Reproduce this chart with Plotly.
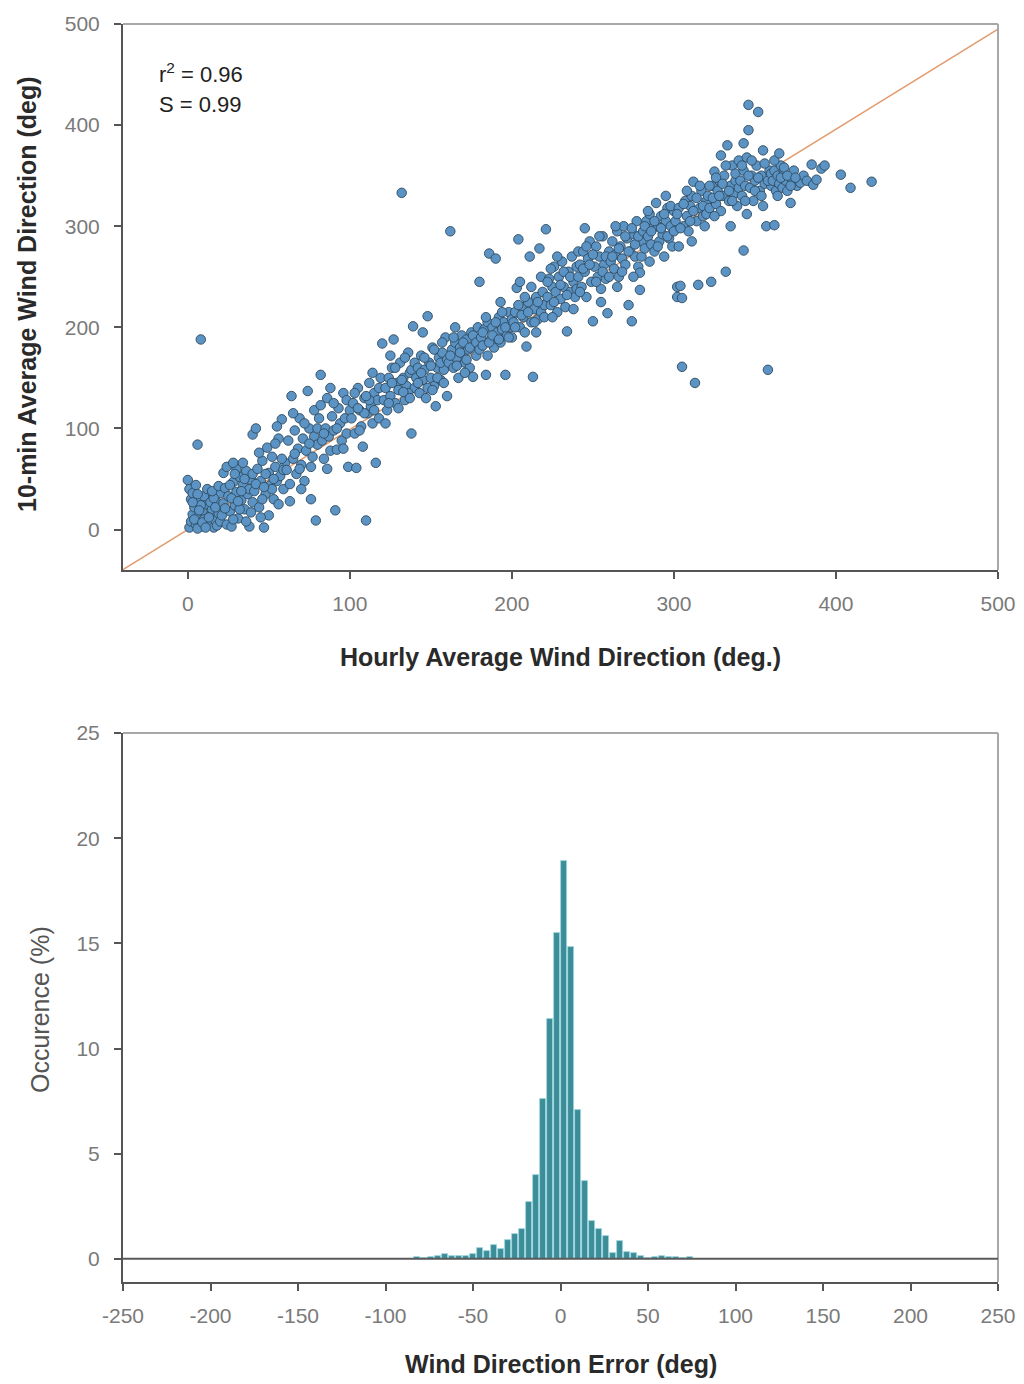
import plotly.graph_objects as go

# ---------------- Data: scatter (hourly vs 10-min average wind direction, deg) ----------------
obs_pairs = [
    # x 0-20
    (1,2),(2,8),(3,15),(4,22),(5,5),(6,12),(7,28),(8,3),(9,18),(10,10),(11,25),(12,6),(13,33),(14,14),(15,20),
    (16,2),(17,9),(18,27),(19,16),(20,36),(2,30),(0,49),(1,40),(3,36),(5,44),(6,1),(8,24),(10,33),(12,40),(14,27),
    (16,31),(18,4),(4,10),(7,19),(9,7),(13,12),(15,38),(17,22),(19,43),(11,2),(3,27),(6,35),(20,8),(6,84),(8,188),
    # x 20-40
    (21,14),(22,26),(23,41),(24,5),(25,33),(26,18),(27,3),(28,47),(29,24),(30,37),(31,11),(32,52),(33,29),(34,44),
    (35,20),(36,58),(37,35),(38,3),(39,49),(40,27),(22,56),(24,62),(26,44),(28,10),(30,60),(32,20),(34,66),(36,8),
    (38,40),(40,55),(23,21),(27,31),(33,38),(29,55),(35,50),(28,66),(40,94),(39,17),(31,28),
    # x 40-60
    (41,38),(42,100),(43,60),(44,22),(45,48),(46,68),(47,2),(48,35),(49,81),(50,56),(51,44),(52,72),(53,30),(54,62),
    (55,48),(56,90),(57,53),(58,109),(59,40),(60,66),(42,45),(44,76),(46,30),(48,55),(50,14),(52,40),(54,85),(56,25),
    (58,70),(45,12),(55,102),(53,50),(47,42),(59,59),
    # x 60-80
    (61,59),(62,88),(63,45),(64,132),(65,70),(66,98),(67,55),(68,80),(69,110),(70,64),(71,90),(72,48),(73,78),(74,137),
    (75,100),(76,62),(77,72),(78,92),(79,9),(80,84),(63,28),(66,75),(69,60),(72,105),(75,85),(78,118),(65,115),(70,40),
    (76,30),(80,100),
    # x 80-100
    (81,110),(82,153),(82,123),(83,88),(84,70),(85,100),(86,130),(87,92),(88,78),(89,112),(90,98),(91,19),(92,79),
    (93,120),(94,105),(95,88),(96,135),(97,110),(98,95),(99,62),(100,118),(84,95),(88,140),(92,100),(96,80),(90,125),
    (86,60),(98,128),
    # x 100-120
    (101,110),(102,125),(103,95),(104,61),(105,140),(106,118),(107,102),(108,82),(109,130),(110,9),(111,115),(112,145),
    (113,122),(114,105),(115,135),(116,66),(117,128),(118,110),(119,150),(120,184),(103,135),(106,98),(109,115),
    (112,128),(115,118),(118,140),(105,120),(110,132),(114,155),
    # x 120-140
    (121,128),(122,140),(123,118),(124,150),(125,132),(126,160),(127,188),(128,125),(129,145),(130,138),(131,165),
    (132,333),(133,150),(134,128),(135,142),(136,175),(137,155),(138,95),(139,201),(140,140),(122,105),(124,125),
    (126,145),(128,160),(130,120),(132,148),(134,170),(136,135),(138,158),(140,165),(125,172),(133,136),(137,130),
    # x 140-160
    (141,150),(142,160),(143,135),(144,172),(145,148),(146,158),(147,130),(148,211),(149,165),(150,150),(151,180),
    (152,142),(153,122),(154,160),(155,170),(156,148),(157,175),(158,158),(159,190),(160,132),(142,145),(144,155),
    (146,170),(148,140),(150,162),(152,178),(154,150),(156,165),(158,145),(160,168),(145,195),(151,138),(157,185),
    # x 160-180
    (161,165),(162,295),(163,178),(164,160),(165,185),(166,170),(167,150),(168,180),(169,192),(170,175),(171,165),
    (172,188),(173,178),(174,160),(175,195),(176,151),(177,182),(178,172),(179,200),(180,245),(162,172),(164,190),
    (166,162),(168,175),(170,185),(172,168),(174,180),(176,192),(178,185),(180,178),(165,200),(171,155),
    # x 180-200
    (181,190),(182,182),(183,198),(184,153),(185,205),(186,273),(187,188),(188,200),(189,180),(190,268),(191,195),
    (192,210),(193,185),(194,198),(195,205),(196,153),(197,192),(198,215),(199,200),(200,190),(182,195),(184,210),
    (186,185),(188,192),(190,205),(192,188),(194,215),(196,200),(198,190),(200,208),(185,172),(193,225),
    # x 200-220
    (201,205),(202,215),(203,239),(204,287),(205,200),(206,220),(207,210),(208,195),(209,181),(210,225),(211,270),
    (212,205),(213,151),(214,218),(215,230),(216,208),(217,278),(218,215),(219,235),(220,222),(202,200),(204,222),
    (206,212),(208,230),(210,215),(212,240),(214,205),(216,225),(218,250),(220,210),(205,245),(215,195),
    # x 220-240
    (221,297),(222,230),(223,248),(224,222),(225,240),(226,260),(227,235),(228,215),(229,250),(230,228),(231,265),
    (232,240),(233,220),(234,196),(235,255),(236,235),(237,270),(238,245),(239,230),(240,260),(222,245),(224,258),
    (226,225),(228,270),(230,242),(232,255),(234,232),(236,250),(238,218),(240,238),(241,275),(225,210),
    # x 240-260
    (241,250),(242,262),(243,240),(244,275),(245,255),(246,230),(247,268),(248,285),(249,245),(250,206),(251,260),
    (252,280),(253,250),(254,270),(255,238),(256,290),(257,262),(258,248),(259,214),(260,275),(242,235),(244,258),
    (246,280),(248,262),(250,272),(252,245),(254,290),(256,255),(258,270),(260,250),(245,298),(255,225),
    # x 260-280
    (261,265),(262,285),(263,258),(264,272),(265,295),(266,250),(267,280),(268,268),(269,300),(270,262),(271,288),
    (272,222),(273,275),(274,206),(275,292),(276,270),(277,305),(278,260),(279,237),(280,285),(262,270),(264,300),
    (266,278),(268,255),(270,290),(272,275),(274,298),(276,282),(278,290),(280,270),(279,254),(265,240),(275,250),
    # x 280-300
    (281,295),(282,278),(283,305),(284,290),(285,312),(286,282),(287,298),(288,275),(289,323),(290,300),(291,285),
    (292,310),(293,292),(294,270),(295,305),(296,318),(297,288),(298,300),(299,280),(300,315),(282,300),(284,315),
    (286,295),(288,305),(290,280),(292,298),(294,312),(296,290),(298,320),(300,295),(285,265),(295,330),
    # x 300-320
    (301,305),(302,240),(302,230),(303,318),(304,241),(305,229),(305,161),(306,300),(307,325),(308,310),(309,295),
    (310,320),(311,330),(312,344),(313,145),(314,305),(315,242),(316,318),(317,335),(318,310),(319,300),(320,325),
    (302,312),(304,298),(306,322),(308,335),(310,305),(312,315),(314,328),(316,340),(318,320),(320,312),(311,285),
    (303,280),
    # x 320-340
    (321,330),(322,318),(323,245),(324,340),(325,354),(326,322),(327,335),(328,345),(329,315),(330,330),(331,350),
    (332,255),(333,380),(334,325),(335,340),(336,360),(337,332),(338,345),(339,320),(340,338),(322,340),(324,328),
    (326,348),(328,330),(330,342),(332,360),(334,335),(336,325),(338,352),(340,365),(325,310),(335,300),(343,276),
    (343,382),(329,370),
    # x 340-360
    (341,345),(342,330),(343,355),(344,340),(345,368),(346,395),(346,420),(347,338),(348,350),(349,325),(350,345),
    (351,360),(352,413),(353,335),(354,350),(355,375),(356,342),(357,300),(358,158),(359,355),(360,340),(342,360),
    (344,325),(346,350),(348,365),(350,335),(352,348),(354,330),(356,362),(358,345),(360,352),(362,301),(345,312),
    (355,320),
    # x 360-425
    (361,345),(362,355),(363,335),(364,350),(365,342),(366,360),(367,338),(368,352),(369,345),(370,335),(372,323),
    (373,346),(374,355),(376,340),(378,343),(380,350),(382,345),(385,361),(386,341),(388,346),(391,357),(364,330),
    (366,348),(368,358),(370,350),(372,340),(375,348),(362,365),(365,372),(393,360),(403,351),(409,338),(422,344),
]
hourly_avg = [p[0] for p in obs_pairs]
tenmin_avg = [p[1] for p in obs_pairs]

fit_slope = 0.99
fit_x = [-40, 500]
fit_y = [fit_slope * v for v in fit_x]

# ---------------- Data: histogram of wind direction error ----------------
err_bin_centers = [-82, -78, -74, -70, -66, -62, -58, -54, -50, -46, -42, -38, -34, -30, -26, -22, -18, -14,
                   -10, -6, -2, 2, 6, 10, 14, 18, 22, 26, 30, 34, 38, 42, 46, 50, 54, 58, 62, 66, 70, 74]
occurrence_pct = [0.10, 0.05, 0.10, 0.13, 0.25, 0.13, 0.13, 0.13, 0.25, 0.52, 0.37, 0.68, 0.48, 0.90, 1.16, 1.40,
                  2.70, 4.00, 7.60, 11.40, 15.50, 18.90, 14.85, 7.10, 3.70, 1.80, 1.40, 1.10, 0.30, 0.85, 0.35,
                  0.30, 0.15, 0.05, 0.10, 0.12, 0.10, 0.08, 0.05, 0.10]

top_ticks = [0, 100, 200, 300, 400, 500]
hist_x_ticks = [-250, -200, -150, -100, -50, 0, 50, 100, 150, 200, 250]
hist_y_ticks = [0, 5, 10, 15, 20, 25]

FONT = "Liberation Sans, Arial, sans-serif"
TICK_FONT = dict(family=FONT, size=21, color="#7a7a7a")
AXIS_COL = "#555555"
BOX_COL = "#a8a8a8"

# page geometry (pixels) -> plot area bounds
W, H = 1024, 1384
L, R, T, B = 123, 998, 24, 1282
PW, PH = R - L, B - T


def px_x(px):
    return (px - L) / PW


def px_y(py):
    return (B - py) / PH


fig = go.Figure()
fig.add_trace(go.Scatter(x=fit_x, y=fit_y, mode="lines", line=dict(color="#e39a6c", width=1.5),
                         xaxis="x", yaxis="y", showlegend=False, hoverinfo="skip"))
fig.add_trace(go.Scatter(x=hourly_avg, y=tenmin_avg, mode="markers",
                         marker=dict(size=9.5, color="#5b94c4", line=dict(color="#2f4a5f", width=0.9)),
                         xaxis="x", yaxis="y", showlegend=False))
fig.add_trace(go.Bar(x=err_bin_centers, y=occurrence_pct, width=3.3,
                     marker=dict(color="#3d8d98", line=dict(color="#9ad8e0", width=0.8)),
                     xaxis="x2", yaxis="y2", showlegend=False))

top_dom = [px_y(570), px_y(24)]
bot_dom = [px_y(1282), px_y(733)]

axis_common = dict(showgrid=False, zeroline=False, showline=True, linecolor=AXIS_COL, linewidth=2,
                   ticks="outside", ticklen=7, tickwidth=2, tickcolor=AXIS_COL, tickfont=TICK_FONT,
                   automargin=False)

fig.update_layout(
    width=W, height=H, margin=dict(l=L, r=W - R, t=T, b=H - B, pad=0, autoexpand=False),
    paper_bgcolor="white", plot_bgcolor="white",
    xaxis=dict(domain=[0, 1], range=[-40, 500], tickvals=top_ticks, anchor="y",
               ticklabelstandoff=7, **axis_common),
    yaxis=dict(domain=top_dom, range=[-40, 500], tickvals=top_ticks, anchor="x",
               ticklabelstandoff=10, **axis_common),
    xaxis2=dict(domain=[0, 1], range=[-250, 250], tickvals=hist_x_ticks,
                ticktext=[str(v) for v in hist_x_ticks], anchor="y2", ticklabelstandoff=7, **axis_common),
    yaxis2=dict(domain=bot_dom, range=[-1.1, 25], tickvals=hist_y_ticks, anchor="x2",
                ticklabelstandoff=10, **axis_common),
    bargap=0,
)

# box borders (top / right) and zero line
shapes = []
for xr, yr in (("x domain", "y domain"), ("x2 domain", "y2 domain")):
    shapes.append(dict(type="line", xref=xr, yref=yr, x0=0, x1=1, y0=1, y1=1, line=dict(color=BOX_COL, width=2)))
    shapes.append(dict(type="line", xref=xr, yref=yr, x0=1, x1=1, y0=0, y1=1, line=dict(color=BOX_COL, width=2)))
shapes.append(dict(type="line", xref="x2 domain", yref="y2", x0=0, x1=1, y0=0, y1=0,
                   line=dict(color="#5a5a5a", width=2), layer="above"))
fig.update_layout(shapes=shapes)

TITLE_FONT = dict(family=FONT, size=25, color="#2a2a2a", weight="bold")
LABEL_FONT = dict(family=FONT, size=22, color="#222")
annos = [
    dict(text="r<sup>2</sup> = 0.96", x=px_x(157), y=px_y(73), xanchor="left", yanchor="middle", font=LABEL_FONT),
    dict(text="S = 0.99", x=px_x(157), y=px_y(104), xanchor="left", yanchor="middle", font=LABEL_FONT),
    dict(text="Hourly Average Wind Direction (deg.)", x=px_x(560), y=px_y(657),
         xanchor="center", yanchor="middle", font=TITLE_FONT),
    dict(text="10-min Average Wind Direction (deg)", x=px_x(27), y=px_y(294), textangle=-90,
         xanchor="center", yanchor="middle", font=TITLE_FONT),
    dict(text="Occurence (%)", x=px_x(40), y=px_y(1010), textangle=-90,
         xanchor="center", yanchor="middle", font=dict(family=FONT, size=25, color="#555")),
    dict(text="Wind Direction Error (deg)", x=px_x(561), y=px_y(1364),
         xanchor="center", yanchor="middle", font=TITLE_FONT),
]
for a in annos:
    a.update(xref="paper", yref="paper", showarrow=False)
fig.update_layout(annotations=annos)

fig.write_html("out.html")
